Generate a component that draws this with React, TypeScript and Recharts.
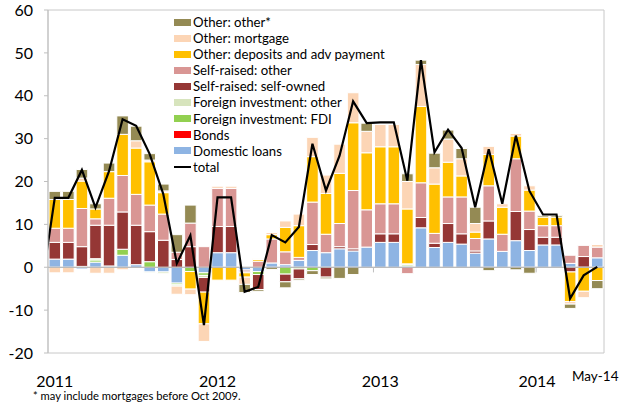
import { ComposedChart, Bar, Line, XAxis, YAxis, ReferenceLine, ReferenceArea } from "recharts"

// monthly flows, Jan-11 .. May-14
const months = [
  "Jan-11", "Feb-11", "Mar-11", "Apr-11", "May-11", "Jun-11", "Jul-11", "Aug-11", "Sep-11", "Oct-11", "Nov-11", "Dec-11",
  "Jan-12", "Feb-12", "Mar-12", "Apr-12", "May-12", "Jun-12", "Jul-12", "Aug-12", "Sep-12", "Oct-12", "Nov-12", "Dec-12",
  "Jan-13", "Feb-13", "Mar-13", "Apr-13", "May-13", "Jun-13", "Jul-13", "Aug-13", "Sep-13", "Oct-13", "Nov-13", "Dec-13",
  "Jan-14", "Feb-14", "Mar-14", "Apr-14", "May-14",
]

const domesticLoans = [1.9, 1.9, -0.4, 1.2, 0.3, 2.8, 0.6, -1.1, -1.1, -3.7, 0, -1.3, 3.4, 3.4, -0.6, -1.0, 1.0, 0.6, 1.6, 3.9, 3.4, 4.3, 3.8, 4.7, 5.8, 5.8, 0.3, 9.2, 4.6, 5.8, 5.4, 3.3, 6.6, 3.7, 6.2, 3.9, 5.2, 5.2, 0.9, 0, 2.2]
const bonds = [0, 0, 0, 0, 0, 0, 0, 0, 0, 0, 0, 0, 0, 0, 0, 0, 0, 0, 0, 0, 0, 0, 0, 0, 0, 0, 0, 0, 0, 0, 0, 0, 0, 0, 0, 0, 0, 0, 0, 0, 0]
const fdi = [0, 0, 0.2, 0.5, 0, 1.4, 0, 1.3, 0, -0.4, -1.0, -0.6, 0, 0, 0, -0.7, 0, -1.6, -0.4, -0.8, 0, 0, 0, 0, 0, 0, 0.3, 0, 0, 0, 0, 0, 0, 0, 0, 0, 0, 0, 0, 0, 0]
const foreignOther = [0, 0, 0, 0.3, 0, 0, 0, -0.2, -0.4, -0.3, 0, -0.5, 0, 0, 0, 0, 0, 0, 0, 0, 0, 0, 0, 0, 0, 0, 0.2, 0, 0, 0, 0, 0, 0, 0, 0, 0, 0, 0, 0, 0, 0]
const selfOwned = [3.9, 3.9, 4.6, 7.8, 9.5, 8.7, 9.2, 7.0, 6.3, 1.8, 4.8, -3.4, 6.1, 6.1, -0.3, -3.5, 0, -1.8, -2.3, 1.4, -2.3, 0.5, 0.5, 0, 2.0, 2.0, 0, 2.4, 1.0, 4.4, 2.4, 0.5, 4.2, 0, 6.8, 4.9, 1.8, 1.8, -1.1, 2.5, 0]
const selfRaisedOther = [3.3, 3.3, 8.9, 1.5, 6.3, 8.5, 7.2, 6.2, 6.1, 1.7, 5.5, 4.8, 8.9, 8.9, -0.4, 1.4, 5.6, 3.0, 0.7, 9.9, 4.3, 5.4, 13.6, 8.7, 7.0, 7.0, -1.5, 8.1, 2.3, 6.2, 8.6, 2.9, 8.2, 4.0, 12.3, 4.3, 2.7, 2.7, 1.9, 2.6, 2.5]
const deposits = [6.7, 6.7, 6.4, 2.3, 6.2, 9.6, 10.8, 10.1, 5.0, 0, -4.1, -7.4, -3.0, -3.0, -1.0, 0.4, 1.0, 5.7, 7.4, 10.6, 9.5, 11.7, 15.8, 13.3, 13.3, 13.3, 12.8, 17.8, 11.5, 8.1, 4.9, 1.5, 7.3, 6.3, 5.3, 4.9, 2.0, 2.0, -6.9, -5.6, -3.1]
const mortgage = [-1.3, -1.3, 0.7, -1.4, -1.4, -0.6, 1.7, 0.4, 0.4, -1.9, -1.3, -4.1, 0.5, 0.5, -1.7, 0.2, 0.5, 1.5, 2.7, 4.5, 4.3, 6.8, 7.0, 5.0, 5.2, 5.2, 6.4, 9.8, 3.8, 5.4, 4.0, 2.0, 1.9, 0.8, 0.6, 1.0, 0, 0, -0.6, -1.5, 0.6]
const otherOther = [1.9, 1.9, 2.0, 1.2, 2.0, 4.3, 3.4, 1.5, 1.6, 4.1, 4.2, 0, 0, 0, -1.9, -0.4, -0.5, -1.4, -0.3, -0.9, -0.4, -2.6, -1.7, 1.9, 0, 0, 1.8, 1.0, 3.4, 2.1, 2.4, 3.8, -0.8, 0, -0.6, -1.4, 0.4, 0.4, -1.0, 0, -1.9]
const total = [16.2, 16.2, 22.7, 13.9, 22.4, 34.5, 33.0, 26.4, 17.1, 0.9, 7.4, -13.5, 16.3, 16.3, -5.7, -4.6, 7.5, 5.8, 9.4, 28.8, 17.9, 26.0, 38.7, 33.6, 33.8, 33.8, 20.2, 48.3, 26.8, 32.1, 27.8, 14.0, 27.5, 14.8, 30.7, 17.8, 12.3, 12.3, -7.3, -1.9, 0.1]
// Dec-10 total, only the line segment entering the chart shows
const totalDec10 = -5.1

const tickIdx = [0, 12, 24, 36, 40]
const tickLabels = ["2011", "2012", "2013", "2014", "May-14"]
const yTicks = [-20, -10, 0, 10, 20, 30, 40, 50, 60]

// stacking order, bottom first
const series = [
  { key: "domesticLoans", name: "Domestic loans", color: "#8EB4E3", values: domesticLoans },
  { key: "bonds", name: "Bonds", color: "#FF0000", values: bonds },
  { key: "fdi", name: "Foreign investment: FDI", color: "#92D050", values: fdi },
  { key: "foreignOther", name: "Foreign investment: other", color: "#D7E4BD", values: foreignOther },
  { key: "selfOwned", name: "Self-raised: self-owned", color: "#953735", values: selfOwned },
  { key: "selfRaisedOther", name: "Self-raised: other", color: "#D99694", values: selfRaisedOther },
  { key: "deposits", name: "Other: deposits and adv payment", color: "#FFC000", values: deposits },
  { key: "mortgage", name: "Other: mortgage", color: "#FCD5B5", values: mortgage },
  { key: "otherOther", name: "Other: other*", color: "#948A54", values: otherOther },
]

const data = [
  { idx: -1, month: "Dec-10", total: totalDec10 },
  ...months.map((m, i) => {
    const row: Record<string, number | string> = { idx: i, month: m, total: total[i] }
    series.forEach((s) => (row[s.key] = s.values[i]))
    return row
  }),
]

function XTick(props: any) {
  const { x, y, payload } = props
  const k = tickIdx.indexOf(payload.value)
  if (k < 0) return null
  const isLast = k === tickLabels.length - 1
  return (
    <text
      x={isLast ? x - 2 : k === 3 ? x - 6 : x}
      y={isLast ? y + 20 : y + 26}
      textAnchor="middle"
      fontSize={isLast ? 13.5 : 16}
      fill="#000"
    >
      {tickLabels[k]}
    </text>
  )
}

function LegendBox() {
  const items = [...series].reverse()
  return (
    <div style={{ position: "absolute", left: 174, top: 14, fontSize: 13.2, color: "#000", lineHeight: "16.1px" }}>
      {items.map((s) => (
        <div key={s.key} style={{ display: "flex", alignItems: "center", height: 16.1 }}>
          <span style={{ display: "inline-block", width: 17, height: 7, background: s.color, marginRight: 2 }} />
          {s.name}
        </div>
      ))}
      <div style={{ display: "flex", alignItems: "center", height: 16.1 }}>
        <span style={{ display: "inline-block", width: 17, height: 2, background: "#000", marginRight: 2 }} />
        total
      </div>
    </div>
  )
}

export default function App() {
  return (
    <div style={{ position: "absolute", left: 0, top: 0, width: 626, height: 405, background: "#fff", fontFamily: "Lato, sans-serif" }}>
      <ComposedChart width={626} height={405} data={data} stackOffset="sign" margin={{ top: 10, right: 22, bottom: 22, left: 0 }}>
        <XAxis
          dataKey="idx"
          type="number"
          domain={[-0.5, 40.5]}
          allowDataOverflow
          ticks={tickIdx}
          interval={0}
          tick={<XTick />}
          axisLine={false}
          tickLine={false}
          height={30}
        />
        <YAxis
          type="number"
          domain={[-20, 60]}
          ticks={yTicks}
          interval={0}
          width={48}
          tick={{ fill: "#000", fontSize: 16 }}
          tickSize={4}
          tickMargin={11}
          axisLine={{ stroke: "#bfbfbf" }}
          tickLine={{ stroke: "#bfbfbf" }}
        />
        <ReferenceArea x1={-0.5} x2={40.5} y1={-20} y2={60} fill="none" fillOpacity={0} stroke="#c8c8c8" />
        <ReferenceLine y={0} stroke="#a6a6a6" />
        {tickIdx.slice(1, 4).map((t) => (
          <ReferenceLine key={t} segment={[{ x: t - 0.5, y: 0 }, { x: t - 0.5, y: -1.2 }]} stroke="#bfbfbf" />
        ))}
        {series.map((s) => (
          <Bar key={s.key} dataKey={s.key} name={s.name} stackId="a" fill={s.color} stroke="#fff" strokeWidth={1} barSize={11.6} isAnimationActive={false} />
        ))}
        <Line dataKey="total" name="total" type="linear" stroke="#000" strokeWidth={2.2} dot={false} isAnimationActive={false} />
      </ComposedChart>
      <LegendBox />
      <div style={{ position: "absolute", left: 33, top: 389, fontSize: 11.2, color: "#000" }}>
        * may include mortgages before Oct 2009.
      </div>
    </div>
  )
}
